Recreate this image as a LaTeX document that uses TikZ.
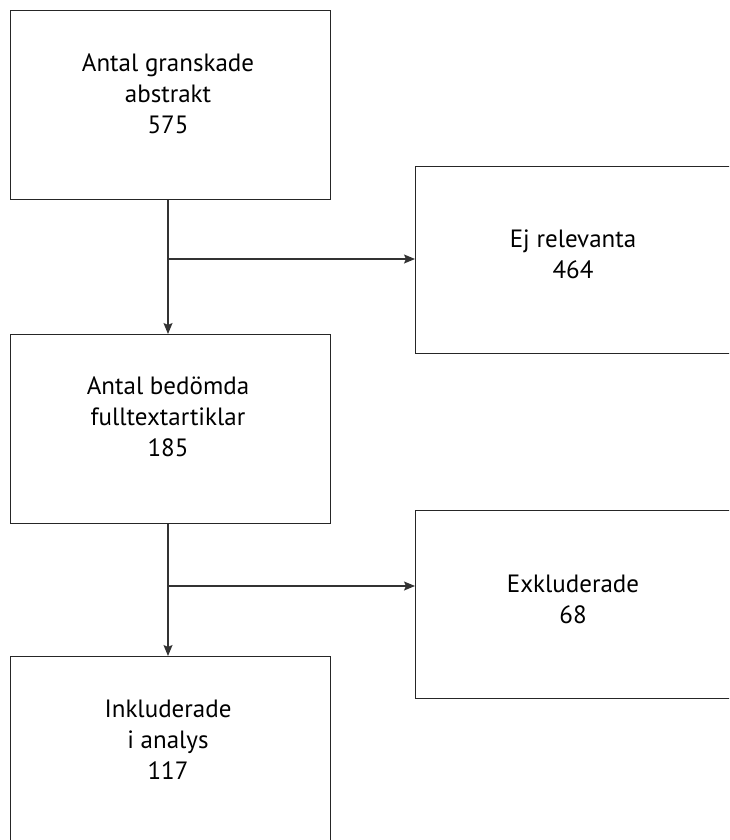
\documentclass[tikz,border=0pt]{standalone}
\usepackage{fontspec}
\setmainfont{PT Sans}
\usetikzlibrary{arrows.meta}
\begin{document}
\begin{tikzpicture}[x=1pt,y=-1pt,
  box/.style={draw=black!85,line width=1.3pt,rectangle,inner sep=0pt,anchor=north west},
  lbl/.style={align=center,font=\fontsize{25}{31}\selectfont,inner sep=0pt},
  arr/.style={draw=black!80,line width=1.3pt,-{Stealth[length=11pt,width=9pt,inset=2pt]}}]
\useasboundingbox (0,0) rectangle (729,840);
\clip (0,0) rectangle (729,840);
\node[box,minimum width=320pt,minimum height=189pt] (b1) at (10,10) {};
\node[box,minimum width=320pt,minimum height=189pt] (b2) at (10,334) {};
\node[box,minimum width=320pt,minimum height=200pt] (b3) at (10,656) {};
\node[box,minimum width=330pt,minimum height=187pt] (r1) at (415,166) {};
\node[box,minimum width=330pt,minimum height=188pt] (r2) at (415,510) {};
\node[lbl] (t1) at (168,94) {Antal granskade\\abstrakt\\575};
\node[lbl] (t2) at (168,417) {Antal bedömda\\fulltextartiklar\\185};
\node[lbl] (t3) at (168,740) {Inkluderade\\i analys\\117};
\node[lbl] (t4) at (573,254) {Ej relevanta\\464};
\node[lbl] (t5) at (573,599) {Exkluderade\\68};
\coordinate (j1) at (168,259);
\coordinate (j2) at (168,586);
\draw[arr] (b1.south -| j1) -- (b2.north -| j1);
\draw[arr] (j1) -- (r1.west |- j1);
\draw[arr] (b2.south -| j2) -- (b3.north -| j2);
\draw[arr] (j2) -- (r2.west |- j2);
\end{tikzpicture}
\end{document}
